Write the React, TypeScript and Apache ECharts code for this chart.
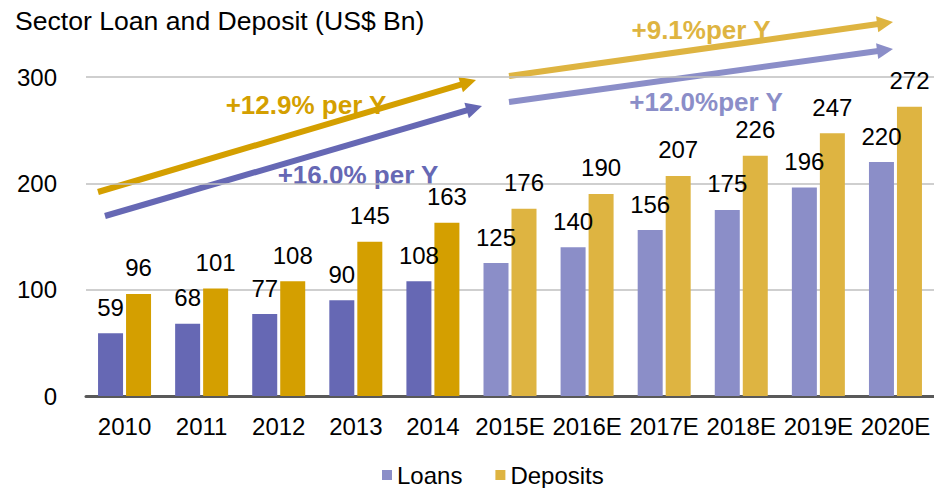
import React, { useEffect, useRef } from "react";
import * as echarts from "echarts";

const categories = ["2010", "2011", "2012", "2013", "2014", "2015E", "2016E", "2017E", "2018E", "2019E", "2020E"];
const loans = [59, 68, 77, 90, 108, 125, 140, 156, 175, 196, 220];
const deposits = [96, 101, 108, 145, 163, 176, 190, 207, 226, 247, 272];
const forecastStart = 5;
const yTicks = [0, 100, 200, 300];
const growthLabels = ["+12.9% per Y", "+16.0% per Y", "+9.1%per Y", "+12.0%per Y"];

const FONT = '"Liberation Sans", Arial, sans-serif';
const LOAN_HIST = "#6668B4";
const LOAN_FC = "#8B8EC8";
const DEP_HIST = "#D49F00";
const DEP_FC = "#DEB441";

function arrow(x1: number, y1: number, x2: number, y2: number, color: string) {
  const dx = x2 - x1;
  const dy = y2 - y1;
  const len = Math.sqrt(dx * dx + dy * dy);
  const ux = dx / len;
  const uy = dy / len;
  const px = -uy;
  const py = ux;
  const head = 16;
  const hw = 8;
  const bx = x2 - ux * head;
  const by = y2 - uy * head;
  return [
    {
      type: "line",
      shape: { x1, y1, x2: bx + ux * 1, y2: by + uy * 1 },
      style: { stroke: color, lineWidth: 6 },
      silent: true,
    },
    {
      type: "polygon",
      shape: {
        points: [
          [x2, y2],
          [bx + px * hw, by + py * hw],
          [bx - px * hw, by - py * hw],
        ],
      },
      style: { fill: color },
      silent: true,
    },
  ];
}

export default function App() {
  const ref = useRef<HTMLDivElement>(null);
  useEffect(() => {
    if (!ref.current) return;
    const chart = echarts.init(ref.current, null, { renderer: "svg" });
    const label = {
      show: true,
      position: "top",
      distance: 14,
      fontSize: 24,
      fontFamily: FONT,
      color: "#000",
    };
    chart.setOption({
      animation: false,
      backgroundColor: "#fff",
      title: {
        text: "Sector Loan and Deposit (US$ Bn)",
        left: 10,
        top: 2,
        textStyle: { fontSize: 26.6, fontWeight: "normal", fontFamily: FONT, color: "#000" },
      },
      legend: {
        top: 458,
        left: 377,
        itemWidth: 10,
        itemHeight: 10,
        itemGap: 33,
        icon: "rect",
        textStyle: { fontSize: 24, fontFamily: FONT, color: "#000" },
        data: [
          { name: "Loans", itemStyle: { color: LOAN_FC } },
          { name: "Deposits", itemStyle: { color: DEP_FC } },
        ],
      },
      grid: { left: 86, right: 0, top: 77, bottom: 92 },
      xAxis: {
        type: "category",
        data: categories,
        axisLine: { lineStyle: { color: "#595959", width: 3 } },
        axisTick: { show: false },
        axisLabel: { fontSize: 24, fontFamily: FONT, color: "#000", margin: 18, interval: 0 },
      },
      yAxis: {
        type: "value",
        min: yTicks[0],
        max: yTicks[yTicks.length - 1],
        interval: 100,
        axisLine: { show: false },
        axisTick: { show: false },
        axisLabel: { fontSize: 24, fontFamily: FONT, color: "#000", margin: 29 },
        splitLine: { lineStyle: { color: "#BFBFBF", width: 1.5 } },
      },
      series: [
        {
          name: "Loans",
          type: "bar",
          barWidth: 25,
          barGap: "12%",
          data: loans.map((v, i) => ({
            value: v,
            itemStyle: { color: i < forecastStart ? LOAN_HIST : LOAN_FC },
          })),
          label,
        },
        {
          name: "Deposits",
          type: "bar",
          barWidth: 25,
          data: deposits.map((v, i) => ({
            value: v,
            itemStyle: { color: i < forecastStart ? DEP_HIST : DEP_FC },
          })),
          label,
        },
      ],
      graphic: [
        ...arrow(98, 192, 476, 80, DEP_HIST),
        ...arrow(105, 216, 482, 106, LOAN_HIST),
        ...arrow(509, 76, 893, 22, DEP_FC),
        ...arrow(509, 102, 893, 49, LOAN_FC),
        {
          type: "text",
          x: 306,
          y: 105,
          style: {
            text: growthLabels[0],
            fill: DEP_HIST,
            font: `bold 26px ${FONT}`,
            align: "center",
            verticalAlign: "middle",
          },
        },
        {
          type: "text",
          x: 358,
          y: 175,
          style: {
            text: growthLabels[1],
            fill: LOAN_HIST,
            font: `bold 26px ${FONT}`,
            align: "center",
            verticalAlign: "middle",
          },
        },
        {
          type: "text",
          x: 701,
          y: 30,
          style: {
            text: growthLabels[2],
            fill: DEP_FC,
            font: `bold 26px ${FONT}`,
            align: "center",
            verticalAlign: "middle",
          },
        },
        {
          type: "text",
          x: 706,
          y: 102,
          style: {
            text: growthLabels[3],
            fill: LOAN_FC,
            font: `bold 26px ${FONT}`,
            align: "center",
            verticalAlign: "middle",
          },
        },
      ],
    });
    return () => chart.dispose();
  }, []);
  return <div ref={ref} style={{ width: 934, height: 488, position: "absolute", left: 0, top: 0 }} />;
}
